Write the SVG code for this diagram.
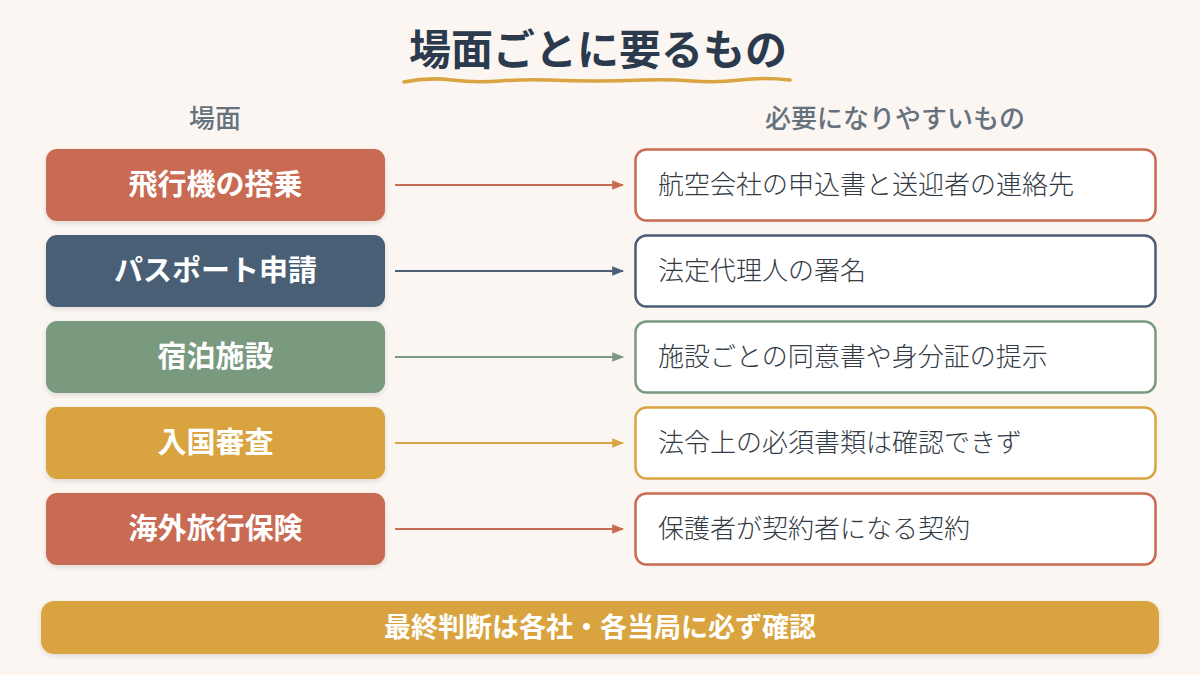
<svg xmlns="http://www.w3.org/2000/svg" width="1200" height="675" viewBox="0 0 1200 675">
<defs>
<style>
.jp{font-family:"Noto Sans CJK JP","Noto Sans",sans-serif}
.title{font-size:42px;font-weight:700;fill:#2b3a4d}
.hdr{font-size:26px;font-weight:500;fill:#66717e}
.lt{font-size:29px;font-weight:600;fill:#ffffff}
.rt{font-size:26px;font-weight:300;fill:#333b45}
.rbox{fill:#ffffff;stroke-width:2.5}
.conn{stroke-width:2;fill:none}
</style>
<filter id="sh" x="-10%" y="-20%" width="120%" height="150%">
<feDropShadow dx="0" dy="2" stdDeviation="2.5" flood-color="#000" flood-opacity="0.12"/>
</filter>
<marker id="aR" viewBox="0 0 10 10" refX="9" refY="5" markerWidth="6" markerHeight="6" orient="auto"><path d="M0,1 L10,5 L0,9 z" fill="#c96a52"/></marker>
<marker id="aB" viewBox="0 0 10 10" refX="9" refY="5" markerWidth="6" markerHeight="6" orient="auto"><path d="M0,1 L10,5 L0,9 z" fill="#4a5e75"/></marker>
<marker id="aG" viewBox="0 0 10 10" refX="9" refY="5" markerWidth="6" markerHeight="6" orient="auto"><path d="M0,1 L10,5 L0,9 z" fill="#7a9a80"/></marker>
<marker id="aY" viewBox="0 0 10 10" refX="9" refY="5" markerWidth="6" markerHeight="6" orient="auto"><path d="M0,1 L10,5 L0,9 z" fill="#d9a441"/></marker>
</defs>
<rect width="1200" height="675" fill="#fbf6f1"/>

<g id="title">
<text class="jp title" x="598" y="65" text-anchor="middle">場面ごとに要るもの</text>
<path d="M404,82 Q428,77 452,80 T500,81 T548,80 T596,81 T644,80 T692,81 T740,80 T790,80" fill="none" stroke="#d9a441" stroke-width="3.5" stroke-linecap="round"/>
</g>

<g id="headers">
<text class="jp hdr" x="215" y="128" text-anchor="middle">場面</text>
<text class="jp hdr" x="895" y="128" text-anchor="middle">必要になりやすいもの</text>
</g>

<g id="connectors">
<line class="conn" x1="395" y1="185" x2="623" y2="185" stroke="#c96a52" marker-end="url(#aR)"/>
<line class="conn" x1="395" y1="271" x2="623" y2="271" stroke="#4a5e75" marker-end="url(#aB)"/>
<line class="conn" x1="395" y1="357" x2="623" y2="357" stroke="#7a9a80" marker-end="url(#aG)"/>
<line class="conn" x1="395" y1="443" x2="623" y2="443" stroke="#d9a441" marker-end="url(#aY)"/>
<line class="conn" x1="395" y1="529" x2="623" y2="529" stroke="#c96a52" marker-end="url(#aR)"/>
</g>

<g id="scene1">
<rect x="46" y="149" width="339" height="72" rx="11" fill="#c96a52" filter="url(#sh)"/>
<text class="jp lt" x="215.5" y="195" text-anchor="middle">飛行機の搭乗</text>
</g>
<g id="need1">
<rect class="rbox" x="635.5" y="149.5" width="520" height="71" rx="11" stroke="#c96a52"/>
<text class="jp rt" x="658" y="194">航空会社の申込書と送迎者の連絡先</text>
</g>

<g id="scene2">
<rect x="46" y="235" width="339" height="72" rx="11" fill="#4a5e75" filter="url(#sh)"/>
<text class="jp lt" x="215.5" y="281" text-anchor="middle">パスポート申請</text>
</g>
<g id="need2">
<rect class="rbox" x="635.5" y="235.5" width="520" height="71" rx="11" stroke="#4a5e75"/>
<text class="jp rt" x="658" y="280">法定代理人の署名</text>
</g>

<g id="scene3">
<rect x="46" y="321" width="339" height="72" rx="11" fill="#7a9a80" filter="url(#sh)"/>
<text class="jp lt" x="215.5" y="367" text-anchor="middle">宿泊施設</text>
</g>
<g id="need3">
<rect class="rbox" x="635.5" y="321.5" width="520" height="71" rx="11" stroke="#7a9a80"/>
<text class="jp rt" x="658" y="366">施設ごとの同意書や身分証の提示</text>
</g>

<g id="scene4">
<rect x="46" y="407" width="339" height="72" rx="11" fill="#d9a441" filter="url(#sh)"/>
<text class="jp lt" x="215.5" y="453" text-anchor="middle">入国審査</text>
</g>
<g id="need4">
<rect class="rbox" x="635.5" y="407.5" width="520" height="71" rx="11" stroke="#d9a441"/>
<text class="jp rt" x="658" y="452">法令上の必須書類は確認できず</text>
</g>

<g id="scene5">
<rect x="46" y="493" width="339" height="72" rx="11" fill="#c96a52" filter="url(#sh)"/>
<text class="jp lt" x="215.5" y="539" text-anchor="middle">海外旅行保険</text>
</g>
<g id="need5">
<rect class="rbox" x="635.5" y="493.5" width="520" height="71" rx="11" stroke="#c96a52"/>
<text class="jp rt" x="658" y="538">保護者が契約者になる契約</text>
</g>

<g id="banner">
<rect x="41" y="601" width="1118" height="53" rx="13" fill="#d9a441" filter="url(#sh)"/>
<text class="jp lt" x="600" y="637" text-anchor="middle" style="font-size:27px">最終判断は各社・各当局に必ず確認</text>
</g>
</svg>
